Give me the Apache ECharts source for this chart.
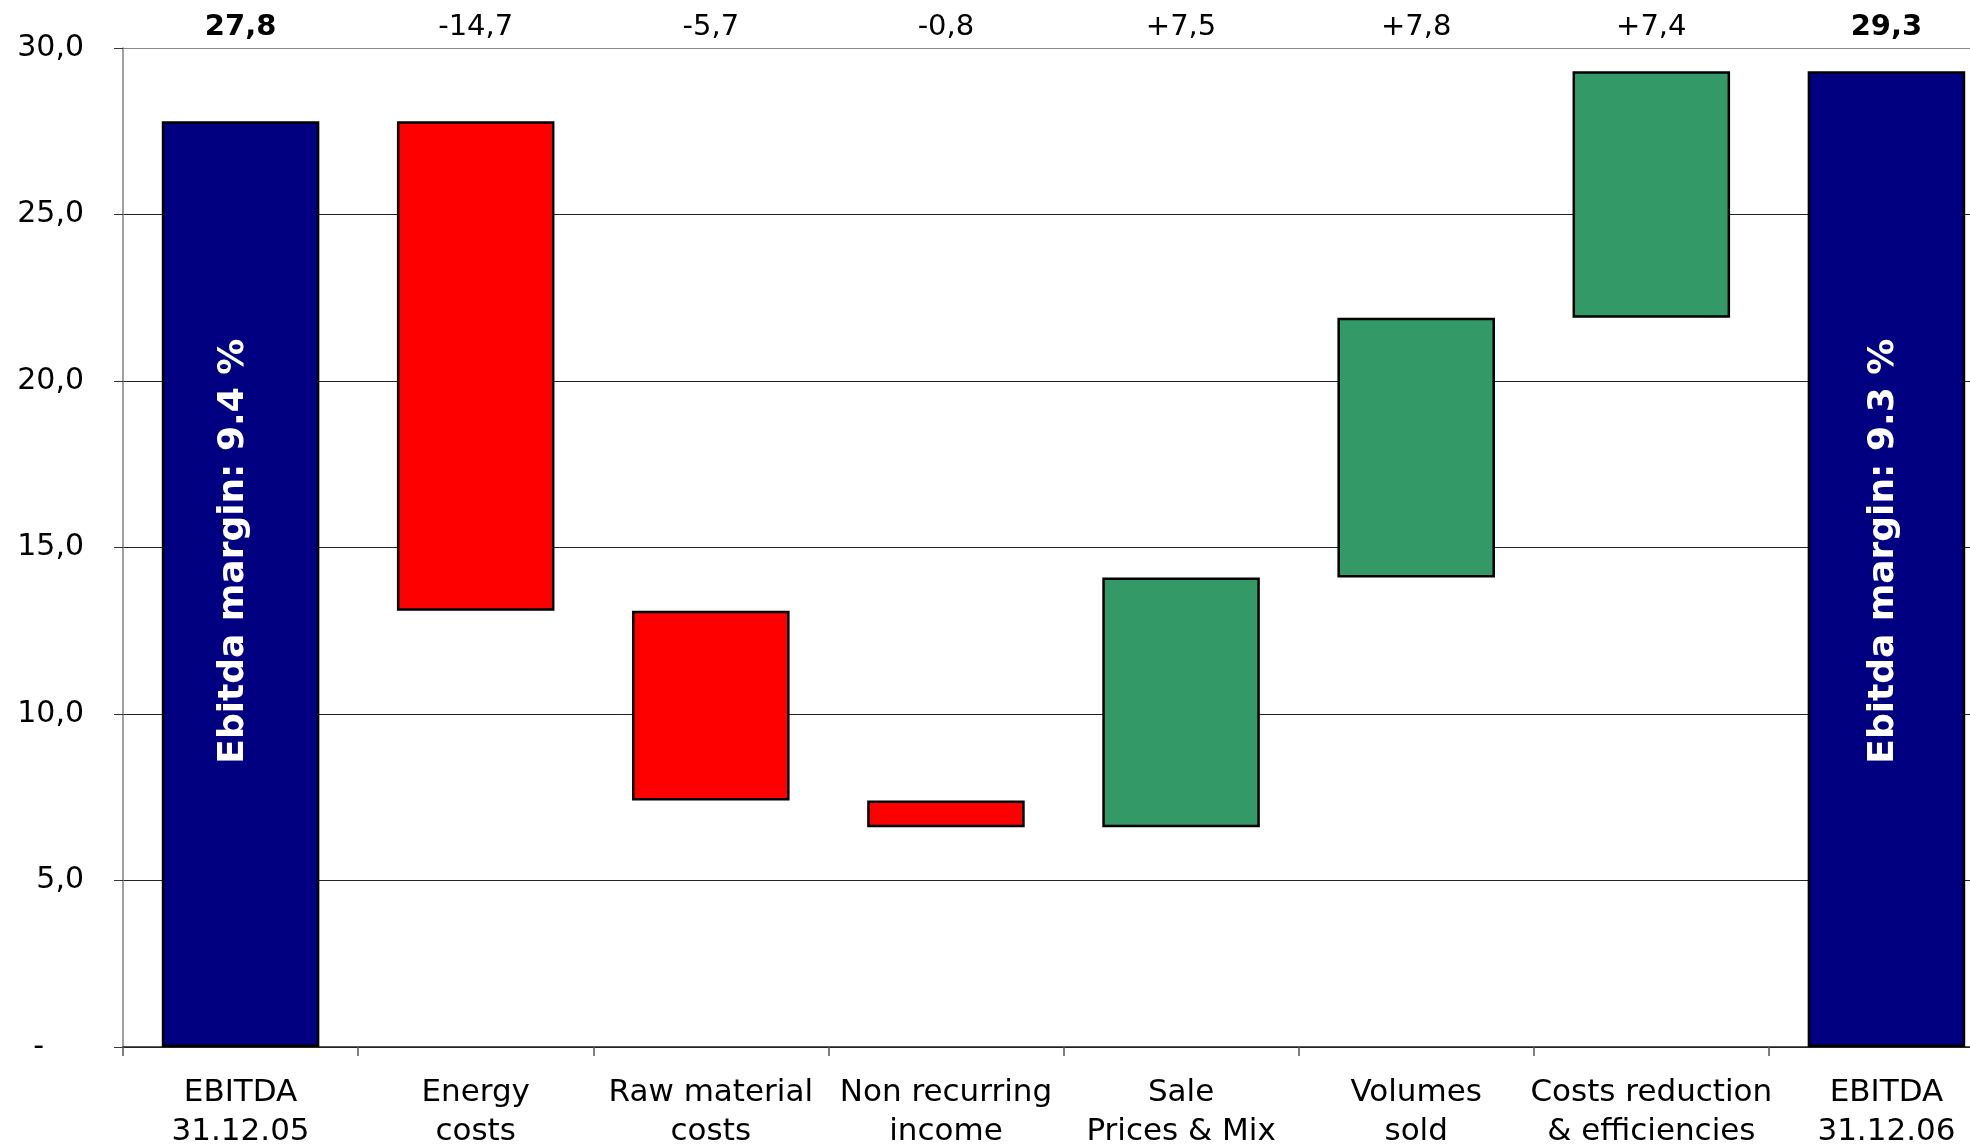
<!DOCTYPE html>
<html>
<head>
<meta charset="utf-8">
<script src="https://cdn.jsdelivr.net/npm/echarts@6/dist/echarts.min.js"></script>
<style>
  html, body { margin: 0; padding: 0; background: #fff; }
  #chart { width: 1970px; height: 1144px; }
</style>
</head>
<body>
<div id="chart"></div>
<script>
// EBITDA bridge 2005 -> 2006 (values in millions)
const categories = [
  'EBITDA\n31.12.05', 'Energy\ncosts', 'Raw material\ncosts', 'Non recurring\nincome',
  'Sale\nPrices & Mix', 'Volumes\nsold', 'Costs reduction\n& efficiencies', 'EBITDA\n31.12.06'
];
const startValue = 27.8;
const endValue = 29.3;
const deltas = [-14.7, -5.7, -0.8, 7.5, 7.8, 7.4];
const marginLabels = ['Ebitda margin: 9.4 %', 'Ebitda margin: 9.3 %'];

const NAVY = '#000080', RED = '#FF0000', GREEN = '#339966';
const FONT = 'DejaVu Sans';

// Build invisible base + visible floating segment for each step
const baseData = [0];
const barData = [{ value: startValue, itemStyle: { color: NAVY } }];
let running = startValue;
deltas.forEach(d => {
  const next = Math.round((running + d) * 10) / 10;
  baseData.push(Math.min(running, next));
  barData.push({ value: Math.abs(d), itemStyle: { color: d < 0 ? RED : GREEN } });
  running = next;
});
baseData.push(0);
barData.push({ value: endValue, itemStyle: { color: NAVY } });

// Rotated margin notes inside the two total bars (both sit at the same height).
// Offsets are in the rotated text frame: [along text, across text].
const noteOffsets = [[33, -7], [8, -3]];
[0, barData.length - 1].forEach((idx, k) => {
  barData[idx].label = {
    show: true, position: 'inside', rotate: 90,
    formatter: marginLabels[k],
    color: '#fff', fontFamily: FONT, fontWeight: 'bold', fontSize: 36,
    offset: noteOffsets[k]
  };
});

const fmt = v => v.toFixed(1).replace('.', ',');
const topLabels = [fmt(startValue)]
  .concat(deltas.map(d => (d > 0 ? '+' : '') + fmt(d)))
  .concat([fmt(endValue)]);

const chart = echarts.init(document.getElementById('chart'), null, { renderer: 'canvas' });
chart.setOption({
  animation: false,
  backgroundColor: '#fff',
  grid: { left: 123, top: 48, bottom: 97, right: -34, outerBoundsMode: 'none', containLabel: false },
  xAxis: [
    {
      type: 'category', data: categories, position: 'bottom',
      axisLine: { lineStyle: { color: '#222', width: 1.5 } },
      axisTick: { show: true, length: 9, lineStyle: { color: '#555', width: 1.5 } },
      axisLabel: {
        interval: 0, margin: 26, color: '#000', fontFamily: FONT, fontSize: 31, lineHeight: 39
      }
    },
    {
      type: 'category', data: topLabels, position: 'top',
      axisLine: { show: false }, axisTick: { show: false },
      axisLabel: {
        interval: 0, margin: 6, color: '#000', fontFamily: FONT, fontSize: 29,
        formatter: (v, i) => (i === 0 || i === topLabels.length - 1) ? '{b|' + v + '}' : v,
        rich: { b: { fontWeight: 'bold', fontSize: 29, fontFamily: FONT, color: '#000' } }
      }
    }
  ],
  yAxis: {
    type: 'value', min: 0, max: 30, interval: 5,
    axisLine: { show: true, lineStyle: { color: '#808080', width: 1.5 } },
    axisTick: { show: true, length: 9, lineStyle: { color: '#333' } },
    splitLine: {
      show: true,
      lineStyle: { color: ['#222', '#222', '#222', '#222', '#222', '#222', '#888'], width: 1.2 }
    },
    axisLabel: {
      margin: 39, color: '#000', fontFamily: FONT, fontSize: 30,
      formatter: v => v === 0 ? '{d|-}' : fmt(v),
      rich: { d: { padding: [0, 40, 0, 0], fontFamily: FONT, fontSize: 30, color: '#000' } }
    }
  },
  series: [
    {
      type: 'bar', stack: 'w', data: baseData, barWidth: '67%',
      itemStyle: { color: 'transparent' }, silent: true
    },
    {
      type: 'bar', stack: 'w', data: barData, barWidth: '67%',
      itemStyle: { borderColor: '#000', borderWidth: 2.5 }
    }
  ]
});
</script>
</body>
</html>
